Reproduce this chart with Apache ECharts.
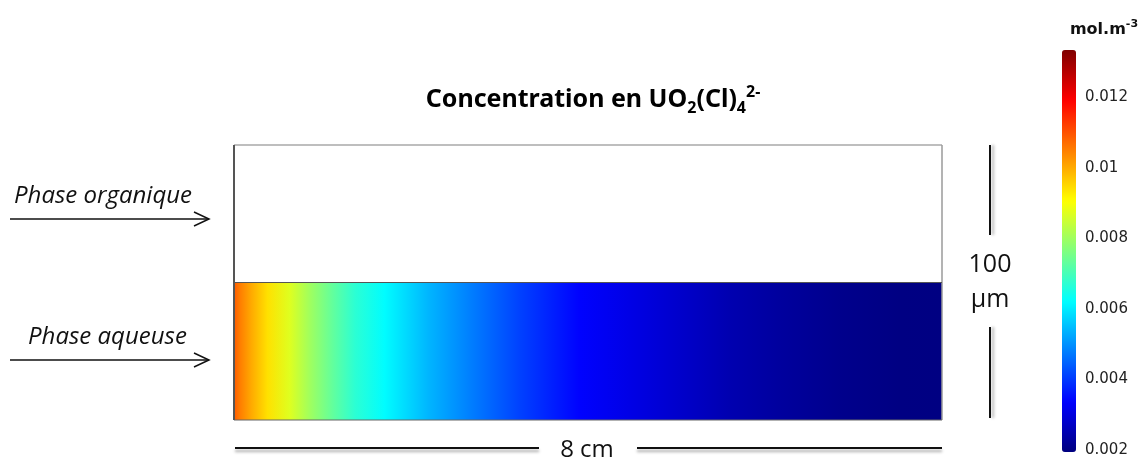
<!DOCTYPE html>
<html>
<head>
<meta charset="utf-8">
<script src="https://cdn.jsdelivr.net/npm/echarts@6/dist/echarts.min.js"></script>
<style>html,body{margin:0;padding:0;background:#fff;}#c{width:1144px;height:460px;}</style>
</head>
<body>
<div id="c"></div>
<script>
// Position along the channel (cm) and UO2(Cl)4 2- concentration in the aqueous phase (mol/m3)
var POS_CM = [0, 0.07, 0.2, 0.38, 0.63, 0.86, 1.12, 1.37, 1.7, 2.2, 2.67, 3.23, 3.9, 4.47, 5.04, 5.6, 6.17, 6.85, 7.52, 8.0];
var CONC   = [0.0109, 0.0105, 0.0100, 0.0094, 0.0087, 0.0080, 0.0073, 0.0067, 0.0062, 0.0054, 0.0048, 0.0041, 0.0034, 0.0031, 0.0028, 0.0025, 0.0023, 0.0021, 0.0020, 0.00198];
var CHANNEL_LEN = 8;      // cm
var CHANNEL_H = 100;      // µm
var PHASE_SPLIT = 50;     // µm, interface aqueous/organic
var CB_MIN = 0.00195, CB_MAX = 0.01333;
var CB_TICKS = [0.002, 0.004, 0.006, 0.008, 0.01, 0.012];
var JET = ['#00007F','#0000FF','#007FFF','#00FFFF','#7FFF7F','#FFFF00','#FF7F00','#FF0000','#7F0000'];

function jet(v){
  var t = (v - CB_MIN) / (CB_MAX - CB_MIN);
  t = Math.max(0, Math.min(1, t));
  return echarts.color.lerp(t, JET);
}

var chart = echarts.init(document.getElementById('c'), null, {renderer:'canvas'});
var data = POS_CM.map(function(x, i){ return [x, CONC[i]]; });
var lineShadow = {shadowColor:'rgba(0,0,0,0.35)', shadowBlur:3, shadowOffsetX:0, shadowOffsetY:3};
var vShadow = {shadowColor:'rgba(0,0,0,0.3)', shadowBlur:3, shadowOffsetX:3, shadowOffsetY:0};

var option = {
  backgroundColor:'#ffffff',
  animation:false,
  grid:[
    {left:234, top:145, width:708, height:275, show:false},
    {left:1062, top:50, width:14, height:402, show:false}
  ],
  xAxis:[
    {gridIndex:0, type:'value', min:0, max:CHANNEL_LEN, show:false},
    {gridIndex:1, type:'value', min:0, max:1, show:false}
  ],
  yAxis:[
    {gridIndex:0, type:'value', min:0, max:CHANNEL_H, show:false},
    {gridIndex:1, type:'value', min:CB_MIN, max:CB_MAX, position:'right',
     axisLine:{show:false}, splitLine:{show:false},
     axisTick:{show:false},
     axisLabel:{customValues:CB_TICKS, margin:9, fontSize:15, fontFamily:'DejaVu Sans', color:'#222',
       formatter:function(v){ return String(v); }}}
  ],
  visualMap:{
    type:'continuous', min:CB_MIN, max:CB_MAX, left:1062, top:50, itemWidth:14, itemHeight:402,
    padding:0, calculable:false, seriesIndex:0, dimension:1, hoverLink:false,
    inRange:{color:JET}, text:null
  },
  series:[
    {
      type:'custom', xAxisIndex:0, yAxisIndex:0, data:data, silent:true,
      renderItem:function(params, api){
        if (params.dataIndex !== 0) return null;
        var p0 = api.coord([POS_CM[0], PHASE_SPLIT]);
        var p1 = api.coord([POS_CM[POS_CM.length-1], 0]);
        var w = p1[0] - p0[0];
        var stops = POS_CM.map(function(x, i){
          return {offset:(api.coord([x, 0])[0] - p0[0]) / w, color:jet(CONC[i])};
        });
        return {
          type:'rect',
          shape:{x:p0[0], y:p0[1], width:w, height:p1[1]-p0[1]},
          style:{fill:new echarts.graphic.LinearGradient(0,0,1,0,stops)}
        };
      }
    },
    {
      type:'custom', xAxisIndex:0, yAxisIndex:0, data:[[0,0]], silent:true, z:5,
      renderItem:function(params, api){
        var tl = api.coord([0, CHANNEL_H]), br = api.coord([CHANNEL_LEN, 0]);
        var mid = api.coord([0, PHASE_SPLIT])[1];
        return {type:'group', children:[
          {type:'line', shape:{x1:tl[0], y1:tl[1], x2:br[0], y2:tl[1]}, style:{stroke:'#a8a8a8', lineWidth:1.5}},
          {type:'line', shape:{x1:br[0], y1:tl[1], x2:br[0], y2:br[1]}, style:{stroke:'#9a9a9a', lineWidth:1.5}},
          {type:'line', shape:{x1:tl[0], y1:br[1], x2:br[0], y2:br[1]}, style:{stroke:'#666', lineWidth:1}},
          {type:'line', shape:{x1:tl[0], y1:mid, x2:br[0], y2:mid}, style:{stroke:'#555', lineWidth:1}},
          {type:'line', shape:{x1:tl[0], y1:tl[1], x2:tl[0], y2:br[1]}, style:{stroke:'#555', lineWidth:2}}
        ]};
      }
    }
  ],
  graphic:[
    {type:'text', x:593, y:100, style:{
      text:'{a|Concentration en UO}{b|2}{a|(Cl)}{b|4}{c|2-}',
      textAlign:'center', textVerticalAlign:'middle', fill:'#000',
      rich:{
        a:{fontFamily:'Noto Sans', fontWeight:'bold', fontSize:25, lineHeight:32, verticalAlign:'middle', fill:'#000'},
        b:{fontFamily:'Noto Sans', fontWeight:'bold', fontSize:16, verticalAlign:'bottom', fill:'#000'},
        c:{fontFamily:'Noto Sans', fontWeight:'bold', fontSize:16, verticalAlign:'top', fill:'#000'}
      }}},
    {type:'text', x:1104, y:30, style:{
      text:'{a|mol.m}{s|-3}', textAlign:'center', textVerticalAlign:'middle',
      rich:{
        a:{fontFamily:'DejaVu Sans', fontWeight:'bold', fontSize:16, lineHeight:22, verticalAlign:'middle', fill:'#111'},
        s:{fontFamily:'DejaVu Sans', fontWeight:'bold', fontSize:11, verticalAlign:'top', fill:'#111'}
      }}},
    {type:'text', x:14, y:196, style:{text:'Phase organique', font:'italic 24px "Open Sans"', fill:'#111', textAlign:'left', textVerticalAlign:'middle'}},
    {type:'text', x:28, y:337, style:{text:'Phase aqueuse', font:'italic 24px "Open Sans"', fill:'#111', textAlign:'left', textVerticalAlign:'middle'}},
    {type:'line', shape:{x1:10, y1:219, x2:209, y2:219}, style:{stroke:'#111', lineWidth:1.5}},
    {type:'polyline', shape:{points:[[194,212],[209,219],[194,226]]}, style:{stroke:'#111', lineWidth:1.5, fill:null}},
    {type:'line', shape:{x1:10, y1:360, x2:209, y2:360}, style:{stroke:'#111', lineWidth:1.5}},
    {type:'polyline', shape:{points:[[194,353],[209,360],[194,367]]}, style:{stroke:'#111', lineWidth:1.5, fill:null}},
    {type:'line', shape:{x1:990, y1:145, x2:990, y2:235}, style:Object.assign({stroke:'#111', lineWidth:2}, vShadow)},
    {type:'line', shape:{x1:990, y1:327, x2:990, y2:418}, style:Object.assign({stroke:'#111', lineWidth:2}, vShadow)},
    {type:'text', x:990, y:265, style:{text:'100', font:'25px "Open Sans"', fill:'#111', textAlign:'center', textVerticalAlign:'middle'}},
    {type:'text', x:990, y:300, style:{text:'µm', font:'25px "Open Sans"', fill:'#111', textAlign:'center', textVerticalAlign:'middle'}},
    {type:'line', shape:{x1:235, y1:448, x2:539, y2:448}, style:Object.assign({stroke:'#111', lineWidth:2}, lineShadow)},
    {type:'line', shape:{x1:637, y1:448, x2:942, y2:448}, style:Object.assign({stroke:'#111', lineWidth:2}, lineShadow)},
    {type:'text', x:587, y:450, style:{text:'8 cm', font:'24px "Open Sans"', fill:'#111', textAlign:'center', textVerticalAlign:'middle'}}
  ]
};
chart.setOption(option);
</script>
</body>
</html>
